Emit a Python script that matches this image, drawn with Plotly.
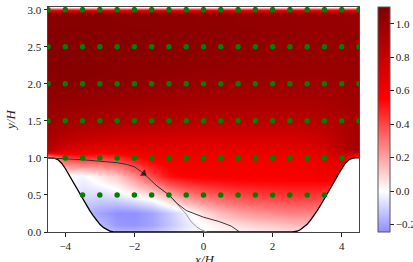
import numpy as np
import plotly.graph_objects as go

# ---------------- data ----------------
# hill profile: distance from crest (H) and height (H)
hill_d = [0.0, 0.1, 0.2, 0.3, 0.4, 0.5, 0.6, 0.7, 0.8, 0.9, 1.0, 1.1, 1.2, 1.3,
          1.4, 1.5, 1.6, 1.7, 1.8, 1.9, 1.93]
hill_h = [1.0, 1.0, 0.994, 0.972, 0.925, 0.857, 0.776, 0.691, 0.607, 0.527, 0.448,
          0.371, 0.295, 0.224, 0.160, 0.105, 0.062, 0.030, 0.010, 0.0005, 0.0]

# velocity field samples (u/Ub)
field_x = [-4.5, -4, -3.5, -3, -2.5, -2, -1.5, -1, -0.5, 0, 0.5, 1, 1.5, 2, 2.5, 3, 3.5, 4, 4.5]
field_y = [0.0, 0.1, 0.25, 0.5, 0.75, 1.0, 1.1, 1.25, 1.5, 2.0, 2.5, 2.96, 3.0, 3.036]
u_y000 = [0, 0, -0.08, -0.1, -0.15, -0.15, -0.13, -0.08, -0.03, 0.0, 0.02, 0.03, 0.04, 0.05, 0.06, 0.07, 0.08, 0.08, 0.08]
u_y010 = [0, 0, -0.12, -0.15, -0.22, -0.23, -0.2, -0.13, -0.06, 0.0, 0.04, 0.07, 0.1, 0.12, 0.14, 0.15, 0.15, 0.15, 0.15]
u_y025 = [0, 0, -0.15, -0.2, -0.24, -0.24, -0.2, -0.12, -0.03, 0.08, 0.15, 0.2, 0.23, 0.25, 0.27, 0.27, 0.25, 0.2, 0.15]
u_y050 = [0, 0, -0.08, -0.08, -0.05, 0.01, 0.07, 0.18, 0.27, 0.33, 0.37, 0.4, 0.42, 0.43, 0.44, 0.44, 0.42, 0.35, 0.25]
u_y075 = [0, 0, -0.02, 0.05, 0.12, 0.25, 0.4, 0.52, 0.56, 0.57, 0.58, 0.58, 0.58, 0.58, 0.58, 0.58, 0.6, 0.58, 0.45]
u_y100 = [0.1, 0.4, 0.45, 0.42, 0.45, 0.52, 0.58, 0.6, 0.6, 0.6, 0.6, 0.6, 0.6, 0.6, 0.6, 0.62, 0.66, 0.72, 0.3]
u_y110 = [0.85, 0.7, 0.65, 0.62, 0.63, 0.65, 0.66, 0.66, 0.66, 0.66, 0.66, 0.66, 0.66, 0.66, 0.66, 0.68, 0.72, 0.85, 0.98]
u_y125 = [0.92, 0.85, 0.8, 0.78, 0.76, 0.75, 0.74, 0.73, 0.72, 0.72, 0.72, 0.72, 0.72, 0.72, 0.72, 0.74, 0.78, 0.88, 0.96]
u_y150 = [0.97, 0.95, 0.93, 0.91, 0.9, 0.89, 0.88, 0.87, 0.86, 0.85, 0.85, 0.85, 0.85, 0.85, 0.85, 0.86, 0.87, 0.9, 0.95]
u_y200 = [1.06, 1.06, 1.05, 1.05, 1.04, 1.03, 1.02, 1.01, 1.0, 0.99, 0.99, 0.98, 0.98, 0.97, 0.97, 0.97, 0.97, 0.98, 1.0]
u_y250 = [1.08, 1.08, 1.08, 1.07, 1.07, 1.06, 1.06, 1.05, 1.05, 1.04, 1.04, 1.03, 1.03, 1.02, 1.02, 1.01, 1.01, 1.01, 1.02]
u_y296 = [1.06, 1.06, 1.06, 1.06, 1.05, 1.05, 1.05, 1.04, 1.04, 1.03, 1.03, 1.02, 1.02, 1.01, 1.01, 1.0, 1.0, 1.0, 1.0]
u_y300 = [0.6] * 19
u_y304 = [0.0] * 19

# streamlines
stream_x = [-4.5, -4.0, -3.5, -3.0, -2.5, -2.2, -2.0, -1.73, -1.37, -1.0, -0.75, -0.5, 0.0, 0.46, 0.8, 1.05]
stream_y = [1.0, 0.99, 0.975, 0.955, 0.935, 0.91, 0.88, 0.79, 0.63, 0.5, 0.38, 0.29, 0.20, 0.14, 0.08, 0.0]
stream2_x = [-4.5, -4.0, -3.5, -3.0, -2.5, -2.2, -2.0, -1.73, -1.37, -1.0, -0.8, -0.64, -0.5, -0.36, -0.2, -0.07, 0.1]
stream2_y = [1.0, 0.99, 0.975, 0.955, 0.935, 0.91, 0.88, 0.79, 0.63, 0.5, 0.40, 0.32, 0.24, 0.14, 0.07, 0.03, 0.0]
arrow_index = 7

# probe points
dot_x = [-4.5, -4, -3.5, -3, -2.5, -2, -1.5, -1, -0.5, 0, 0.5, 1, 1.5, 2, 2.5, 3, 3.5, 4, 4.5]
dot_y = [0.5, 1.0, 1.5, 2.0, 2.5, 3.0]

x_ticks = [-4, -2, 0, 2, 4]
cbar_ticks = [-0.2, 0.0, 0.2, 0.4, 0.6, 0.8, 1.0]
vmin, vmax = -0.245, 1.1
x_title = "<i>x/H</i>"
y_title = "<i>y/H</i>"
# ---------------------------------------

Z = [u_y000, u_y010, u_y025, u_y050, u_y075, u_y100, u_y110, u_y125,
     u_y150, u_y200, u_y250, u_y296, u_y300, u_y304]

def p(v):
    return (v - vmin) / (vmax - vmin)

colorscale = [[0.0, "rgb(142,142,255)"], [p(0.0), "rgb(255,255,255)"],
              [p(0.55), "rgb(255,0,0)"], [1.0, "rgb(128,0,0)"]]

hd = np.array(hill_d)
hh = np.array(hill_h)
bx = np.concatenate([-4.5 + hd, (4.5 - hd)[::-1]])
by = np.concatenate([hh, hh[::-1]])

def hill_at(x):
    return float(np.interp(abs(x), (4.5 - hd)[::-1], hh[::-1]))

font = "Liberation Serif, Times New Roman, serif"
fig = go.Figure()
fig.add_trace(go.Heatmap(
    x=field_x, y=field_y, z=Z, zmin=vmin, zmax=vmax, zsmooth="best",
    colorscale=colorscale, hoverinfo="skip",
    colorbar=dict(
        x=378 / 413, xref="container", xanchor="left", xpad=0, ypad=0,
        thickness=12,
        y=0.5, yanchor="middle", len=1.0, lenmode="fraction",
        outlinecolor="#555", outlinewidth=1,
        tickvals=cbar_ticks, tickformat=".1f", ticks="outside", ticklen=3.5,
        tickwidth=0.8, tickcolor="#222",
        tickfont=dict(family=font, size=11, color="#222"),
    ),
))
# hill (solid region)
fig.add_trace(go.Scatter(
    x=list(bx) + [4.5, -4.5], y=list(by) + [-0.2, -0.2],
    fill="toself", fillcolor="white", line=dict(width=0),
    mode="lines", hoverinfo="skip", showlegend=False))
fig.add_trace(go.Scatter(
    x=bx, y=by, mode="lines", line=dict(color="black", width=1.3),
    hoverinfo="skip", showlegend=False))
# streamlines
fig.add_trace(go.Scatter(
    x=stream2_x, y=stream2_y, mode="lines", line=dict(color="#9a9a9a", width=1.0),
    showlegend=False, hoverinfo="skip"))
fig.add_trace(go.Scatter(
    x=stream_x, y=stream_y, mode="lines", line=dict(color="#222", width=0.9),
    showlegend=False, hoverinfo="skip"))
fig.add_trace(go.Scatter(
    x=stream_x[arrow_index - 1:arrow_index + 1], y=stream_y[arrow_index - 1:arrow_index + 1],
    mode="markers",
    marker=dict(symbol="triangle-up", size=[0, 6], color="black", angleref="previous",
                line=dict(color="black", width=0.6)),
    showlegend=False, hoverinfo="skip"))
# probe dots
px, py = [], []
for yv in dot_y:
    for xv in dot_x:
        if yv > hill_at(xv) + 1e-6:
            px.append(xv)
            py.append(yv)
fig.add_trace(go.Scatter(
    x=px, y=py, mode="markers", marker=dict(color="#008000", size=5.5),
    showlegend=False, hoverinfo="skip"))

axis_common = dict(showgrid=False, zeroline=False, showline=True, mirror=True,
                   linecolor="#444", linewidth=1, ticks="outside", ticklen=3.5,
                   tickwidth=0.8, tickcolor="#222",
                   tickfont=dict(family=font, size=11, color="#222"))
fig.update_xaxes(range=[-4.5, 4.5], tickvals=x_ticks, **axis_common)
fig.update_yaxes(range=[0, 3.036], dtick=0.5, tickformat=".1f", **axis_common,
                 title=dict(text=y_title, font=dict(family=font, size=13, color="#222"), standoff=8))
fig.add_annotation(text=x_title, xref="paper", yref="paper", x=0.5, y=0,
                   xanchor="center", yanchor="top", yshift=-18, showarrow=False,
                   font=dict(family=font, size=13, color="#222"))
fig.update_layout(
    width=413, height=262,
    margin=dict(l=48, r=53.5, t=7.3, b=30.3, autoexpand=False),
    paper_bgcolor="white", plot_bgcolor="white",
    font=dict(family=font, size=11, color="#222"),
    showlegend=False,
)
fig.write_html("out.html", config={"displayModeBar": False},
               post_script="document.body.style.margin='0';document.body.style.padding='0';")
